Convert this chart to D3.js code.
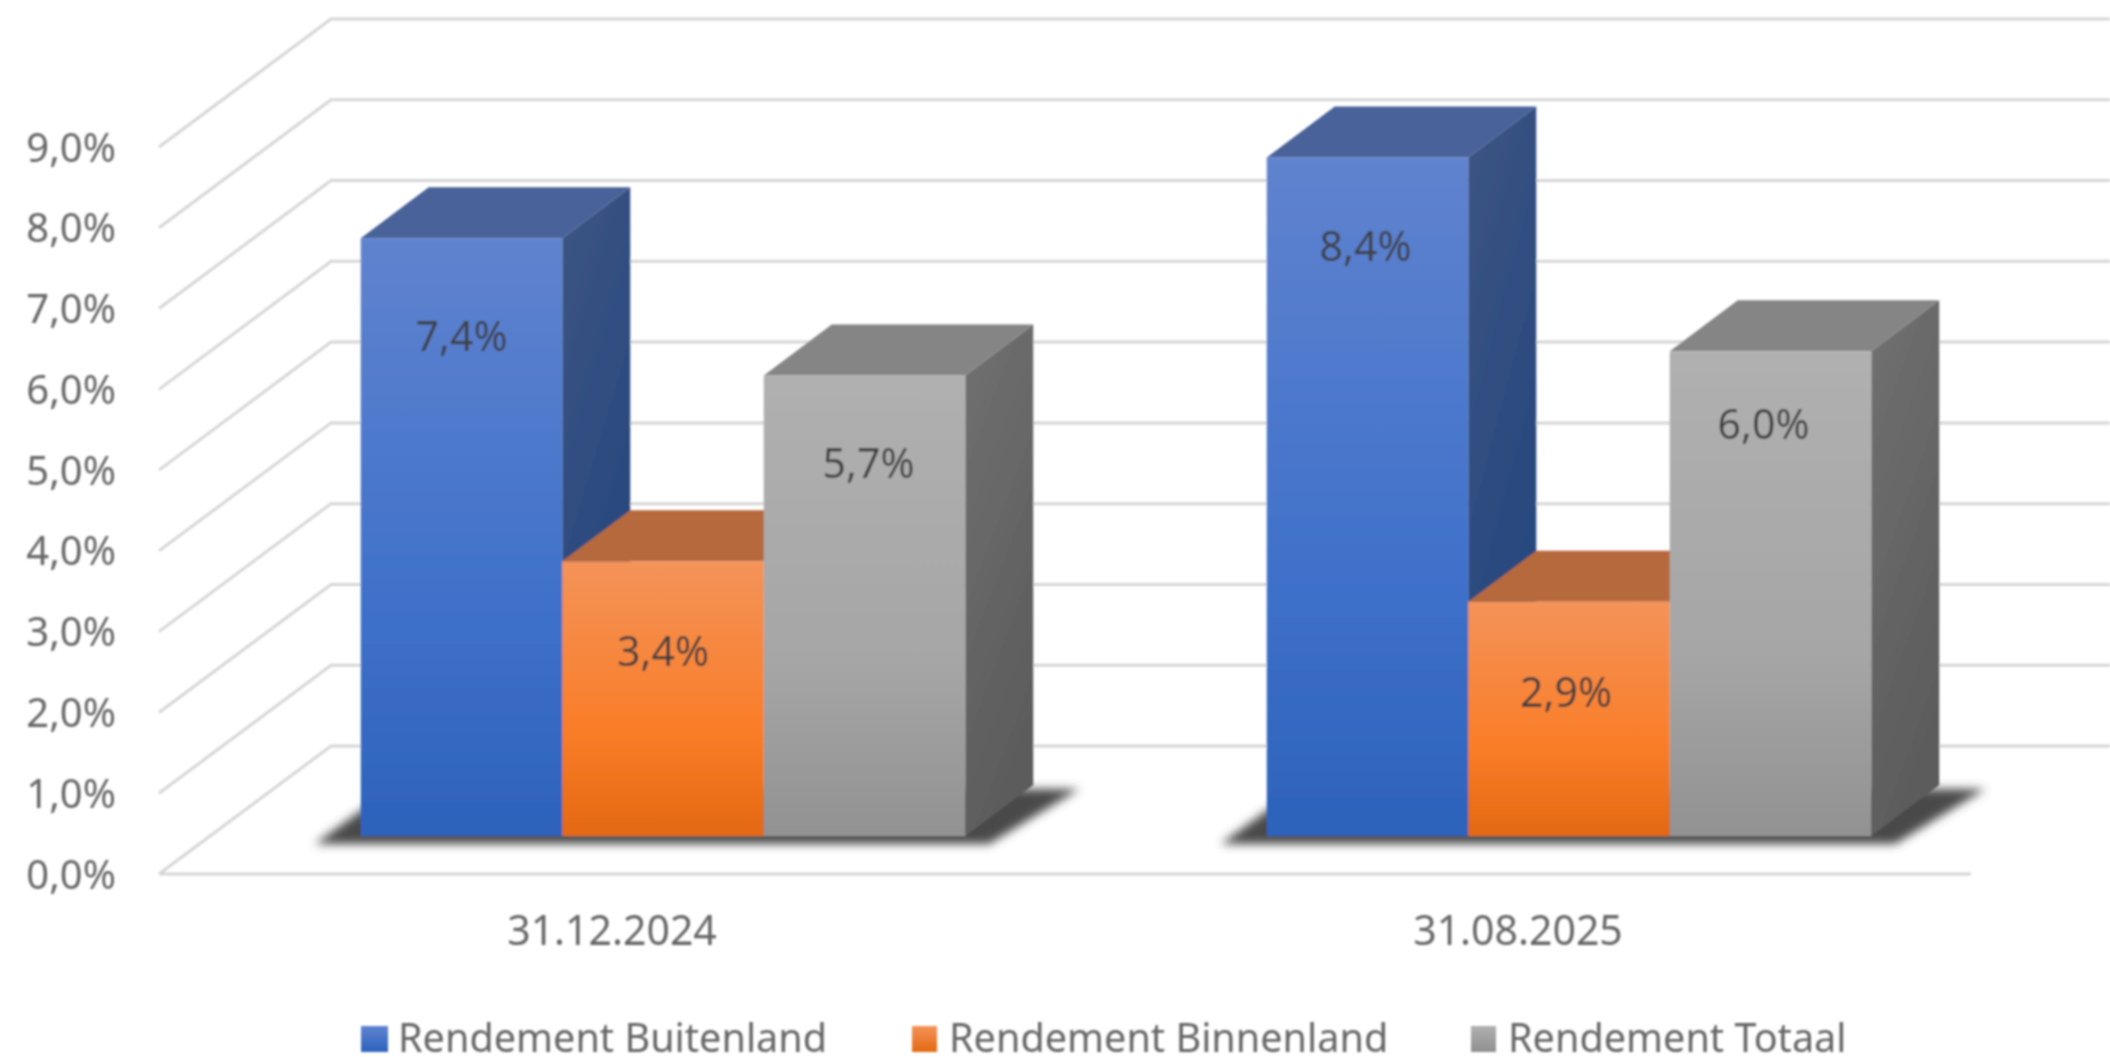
<!DOCTYPE html>
<html><head><meta charset="utf-8">
<script src="https://cdn.jsdelivr.net/npm/d3@7"></script>
<style>
html,body{margin:0;padding:0;background:#fff}
svg{display:block}
text{font-family:"Noto Sans",sans-serif}
</style></head><body>
<svg id="chart" width="2110" height="1057"></svg>
<script>
const categories = ["31.12.2024", "31.08.2025"];
const seriesNames = ["Rendement Buitenland", "Rendement Binnenland", "Rendement Totaal"];
const buitenland = [7.4, 8.4];
const binnenland = [3.4, 2.9];
const totaal = [5.7, 6.0];
const tickValues = [0,1,2,3,4,5,6,7,8,9];

const W = 2110, H = 1057;
const svg = d3.select("#chart").attr("viewBox",[0,0,W,H]);
const defs = svg.append("defs");
const seriesValues = [buitenland, binnenland, totaal];

// Palettes: front gradient, top face, side gradient
const palette = [
  {front:["#6083cf","#3f71ca","#2d62bb"], top:"#4a6299", side:["#3d5583","#23457e"], legend:["#5f84d0","#2d62bc"]},
  {front:["#f49359","#fa7d28","#e36912"], top:"#b6693d", side:["#a85a30","#8f4a18"], legend:["#f49359","#e36912"]},
  {front:["#b0b0b0","#a6a6a6","#929292"], top:"#858585", side:["#717171","#5c5c5c"], legend:["#b0b0b0","#8f8f8f"]}
];
palette.forEach((p,i)=>{
  const f = defs.append("linearGradient").attr("id","front"+i).attr("x1",0).attr("x2",0).attr("y1",0).attr("y2",1);
  p.front.forEach((c,k)=>f.append("stop").attr("offset",[0,0.62,1][k]).attr("stop-color",c));
  const s = defs.append("linearGradient").attr("id","side"+i).attr("x1",0).attr("x2",0.35).attr("y1",0).attr("y2",1);
  p.side.forEach((c,k)=>s.append("stop").attr("offset",k).attr("stop-color",c));
  const l = defs.append("linearGradient").attr("id","leg"+i).attr("x1",0).attr("x2",0).attr("y1",0).attr("y2",1);
  p.legend.forEach((c,k)=>l.append("stop").attr("offset",k).attr("stop-color",c));
});
defs.append("filter").attr("id","soft").attr("x","-5%").attr("y","-30%").attr("width","110%").attr("height","160%")
  .append("feGaussianBlur").attr("stdDeviation",5);
defs.append("filter").attr("id","aa").attr("filterUnits","userSpaceOnUse").attr("x",0).attr("y",0).attr("width",W).attr("height",H)
  .append("feGaussianBlur").attr("stdDeviation",0.9);

// Layout of the pseudo-3D box
const floorX0 = 159, floorX1 = 1971, floorY = 874, topY = 147;
const wallDX = 172, wallDY = -128;          // full depth of the chart box
const barInsetX = 51, barInsetY = -38;      // front of the bars inside the box
const barDX = 68, barDY = -51;              // depth of a bar

const y = d3.scaleLinear().domain([0,9]).range([floorY, topY]);
const x0 = d3.scaleBand().domain(categories).range([floorX0, floorX1]).padding(0);
const barBlock = 604.5;
const x1 = d3.scaleBand().domain(seriesNames).range([0, barBlock]);

const root = svg.append("g").attr("filter","url(#aa)");

// Grid: floor/side and back wall lines
const grid = root.append("g").attr("fill","none").attr("stroke","#d6d6d6").attr("stroke-width",3);
grid.selectAll("path").data(tickValues).join("path")
  .attr("d",v=>{
    const yy=y(v);
    const p=d3.path();
    p.moveTo(floorX0,yy); p.lineTo(floorX0+wallDX,yy+wallDY); p.lineTo(W,yy+wallDY);
    return p.toString();
  });
grid.append("line").attr("x1",floorX0).attr("x2",floorX1).attr("y1",floorY).attr("y2",floorY);

// Tick labels through a D3 axis
const fmt = v => d3.format(".1f")(v).replace(".",",")+"%";
const yAxis = root.append("g").attr("transform","translate(116,0)")
  .call(d3.axisLeft(y).tickValues(tickValues).tickSize(0).tickPadding(0).tickFormat(fmt));
yAxis.select(".domain").remove();
yAxis.selectAll("text").attr("font-size",40).attr("fill","#666").attr("x",0).attr("dy",null)
  .attr("y",14).attr("text-anchor","end").style("font-family",'"Noto Sans",sans-serif');

// Category labels through a D3 axis
const xAxis = root.append("g").attr("transform",`translate(0,945)`)
  .call(d3.axisBottom(x0).tickSize(0).tickPadding(0));
xAxis.select(".domain").remove();
xAxis.selectAll("text").attr("font-size",41).attr("fill","#666").attr("y",0).attr("dy",null)
  .style("font-family",'"Noto Sans",sans-serif');

// Bars
const base = y(0)+barInsetY;
const valY = v => y(v)+barInsetY;
const poly = pts => pts.map(p=>p.join(",")).join(" ");
// data-label nudges relative to the top of each front face / bar centre
const labelDropBy = [[113,105,102],[104,105,88]];
const labelShift = [[0,0,4],[-2,-3,-7]];

categories.forEach((cat,ci)=>{
  const gx = x0(cat)+barInsetX+(x0.bandwidth()-barBlock)/2;
  // shadow on the floor
  root.append("polygon").attr("filter","url(#soft)").attr("fill","#4a4a4a")
    .attr("points",poly([[gx-46,base+8],[gx+barBlock+24,base+8],[gx+barBlock+114,base+barDY+4],[gx+30,base+barDY+4]]));
  const g = root.append("g");
  seriesNames.forEach((s,si)=>{
    const v = seriesValues[si][ci];
    const xl = gx+x1(s), w = x1.bandwidth(), yt = valY(v);
    g.append("polygon").attr("fill",`url(#side${si})`)
      .attr("points",poly([[xl+w,yt],[xl+w+barDX,yt+barDY],[xl+w+barDX,base+barDY],[xl+w,base]]));
    g.append("polygon").attr("fill",palette[si].top)
      .attr("points",poly([[xl,yt],[xl+barDX,yt+barDY],[xl+w+barDX,yt+barDY],[xl+w,yt]]));
    g.append("rect").attr("x",xl).attr("y",yt).attr("width",w).attr("height",base-yt).attr("fill",`url(#front${si})`);
  });
  seriesNames.forEach((s,si)=>{
    const v = seriesValues[si][ci];
    g.append("text").attr("x",gx+x1(s)+x1.bandwidth()/2+labelShift[ci][si]).attr("y",valY(v)+labelDropBy[ci][si])
      .attr("text-anchor","middle").attr("font-size",41).attr("fill","#404040")
      .text(fmt(v));
  });
});

// Legend
const legendSwatchX = [361,912,1471];
const legend = root.append("g");
seriesNames.forEach((s,i)=>{
  legend.append("rect").attr("x",legendSwatchX[i]).attr("y",1026).attr("width",i==0?27:25).attr("height",26).attr("fill",`url(#leg${i})`);
  legend.append("text").attr("x",legendSwatchX[i]+37).attr("y",1052).attr("font-size",39.6).attr("fill","#666").text(s);
});
</script>
</body></html>
